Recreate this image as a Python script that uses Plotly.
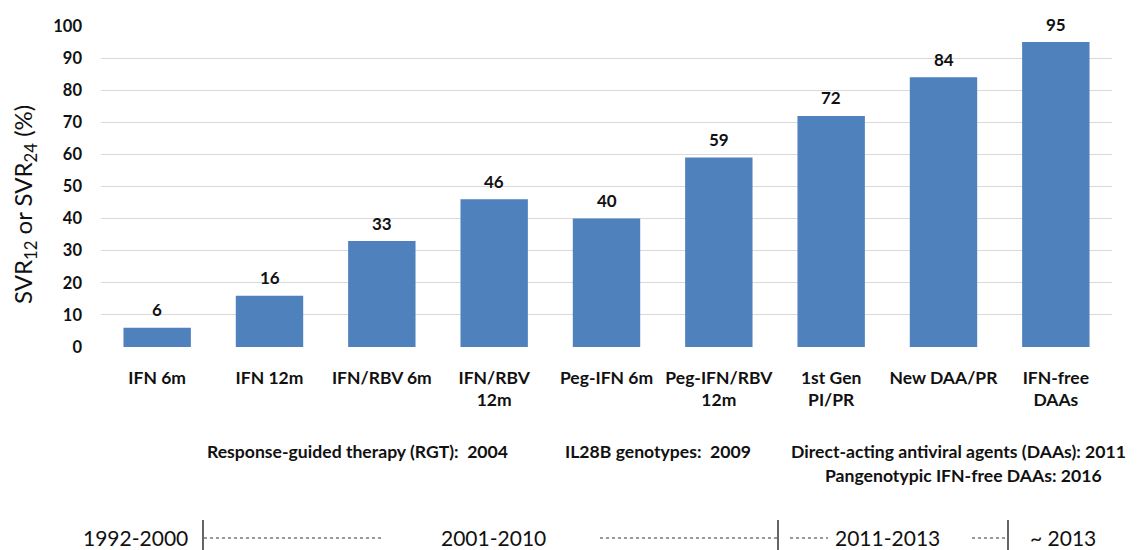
import plotly.graph_objects as go

categories = ["IFN 6m", "IFN 12m", "IFN/RBV 6m", "IFN/RBV<br>12m", "Peg-IFN 6m",
              "Peg-IFN/RBV<br>12m", "1st Gen<br>PI/PR", "New DAA/PR", "IFN-free<br>DAAs"]
svr_values = [6, 16, 33, 46, 40, 59, 72, 84, 95]
y_ticks = [0, 10, 20, 30, 40, 50, 60, 70, 80, 90, 100]

milestones = ["Response-guided therapy (RGT):  2004", "IL28B genotypes:  2009",
              "Direct-acting antiviral agents (DAAs): 2011", "Pangenotypic IFN-free DAAs: 2016"]
periods = ["1992-2000", "2001-2010", "2011-2013", "~ 2013"]

W, H = 1147, 550
L, R, T, B = 101, 1112, 26, 347
FONT = "Lato"
INK = "#111111"


def xp(px):
    return (px - L) / (R - L)


def yp(py):
    return (B - py) / (B - T)


fig = go.Figure()
fig.add_trace(go.Bar(x=categories, y=svr_values, marker_color="#4f81bd",
                     marker_line_width=0, hoverinfo="x+y"))

annotations = []
for c, v in zip(categories, svr_values):
    annotations.append(dict(x=c, y=v, xref="x", yref="y", text=f"<b>{v}</b>",
                            showarrow=False, yanchor="middle", yshift=18,
                            font=dict(family=FONT, size=17, color=INK)))

# y-axis title
annotations.append(dict(x=xp(25), y=yp(205), xref="paper", yref="paper",
                        text="SVR<sub>12</sub> or SVR<sub>24</sub> (%)", textangle=-90,
                        showarrow=False, xanchor="center", yanchor="middle",
                        font=dict(family=FONT, size=24, color=INK)))

# milestone rows
ms_pos = [(357, 451), (658, 451), (958, 451), (963, 475)]
for t, (cx, cy) in zip(milestones, ms_pos):
    annotations.append(dict(x=xp(cx), y=yp(cy), xref="paper", yref="paper",
                            text=f"<b>{t}</b>", showarrow=False,
                            xanchor="center", yanchor="middle",
                            font=dict(family=FONT, size=17.6, color=INK)))

# timeline labels
tl_pos = [(190, "right"), (493, "center"), (887, "center"), (1028, "left")]
for t, (px, anc) in zip(periods, tl_pos):
    annotations.append(dict(x=xp(px), y=yp(537), xref="paper", yref="paper",
                            text=t, showarrow=False, xanchor=anc, yanchor="middle",
                            font=dict(family=FONT, size=21, color=INK)))

shapes = []
for vx in [203, 778, 1008]:
    shapes.append(dict(type="line", xref="paper", yref="paper",
                       x0=xp(vx), x1=xp(vx), y0=yp(520), y1=yp(556),
                       line=dict(color="#111111", width=1.3)))
for a, b in [(204, 382), (600, 777), (790, 828), (972, 1007)]:
    shapes.append(dict(type="line", xref="paper", yref="paper",
                       x0=xp(a), x1=xp(b), y0=yp(538), y1=yp(538),
                       line=dict(color="#333333", width=1, dash="dot")))

fig.update_layout(
    width=W, height=H,
    margin=dict(l=L, r=W - R, t=T, b=H - B, pad=0),
    plot_bgcolor="white", paper_bgcolor="white",
    bargap=0.4, showlegend=False,
    font=dict(family=FONT, color=INK),
    annotations=annotations, shapes=shapes,
)
fig.update_xaxes(showgrid=False, showline=False, zeroline=False,
                 tickfont=dict(family=FONT, size=17.5, color=INK, weight="bold"),
                 ticks="", ticklabelstandoff=18, tickangle=0)
fig.update_yaxes(range=[0, 100], tickvals=y_ticks, showgrid=True, gridcolor="#d9d9d9",
                 gridwidth=1, zeroline=False, showline=False, ticks="",
                 tickfont=dict(family=FONT, size=16.5, color=INK, weight="bold"),
                 ticklabelstandoff=18)

fig.write_html("out.html")
